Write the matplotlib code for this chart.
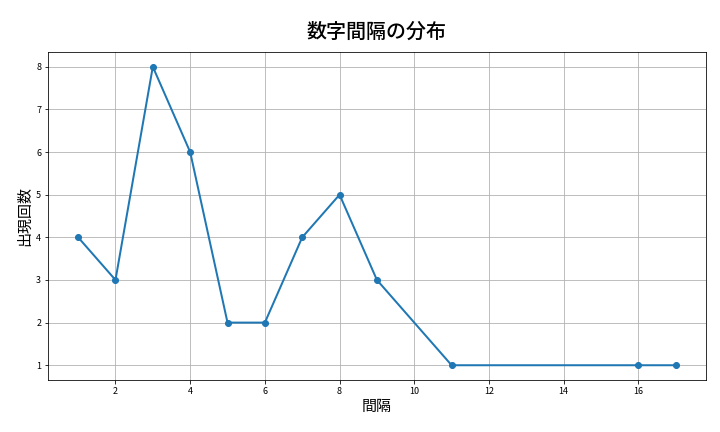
import matplotlib
matplotlib.use("Agg")
import matplotlib.pyplot as plt

plt.rcParams['font.family'] = ['Noto Sans CJK JP', 'DejaVu Sans']

intervals = [1, 2, 3, 4, 5, 6, 7, 8, 9, 11, 16, 17]
counts = [4, 3, 8, 6, 2, 2, 4, 5, 3, 1, 1, 1]

fig, ax = plt.subplots(figsize=(10, 6), dpi=72)
ax.plot(intervals, counts, marker='o', linewidth=2, color='#1f77b4')
ax.set_title('数字間隔の分布', fontsize=20, fontweight='medium', pad=14)
ax.set_xlabel('間隔', fontsize=15)
ax.set_ylabel('出現回数', fontsize=15)
ax.tick_params(labelsize=9)
ax.grid(True)

fig.subplots_adjust(left=0.067, right=0.98, top=0.88, bottom=0.12)
plt.savefig('out.png', dpi=72)
